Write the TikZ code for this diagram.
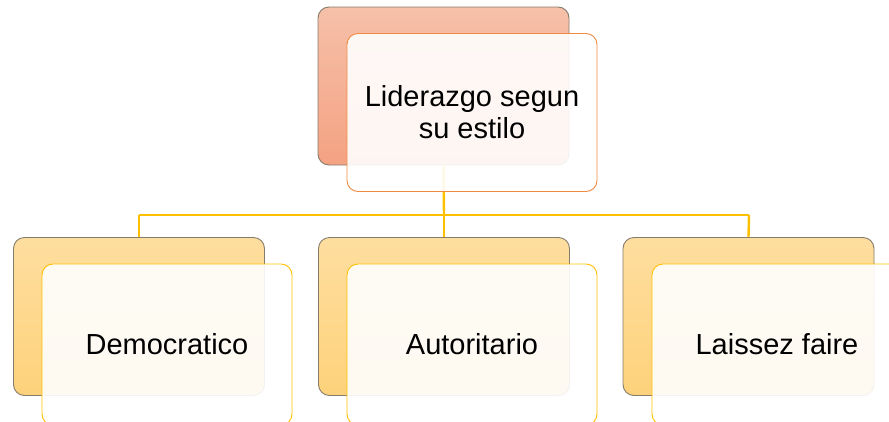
\documentclass[tikz,border=0pt]{standalone}
\usepackage{fontspec}
\setmainfont{Liberation Sans}
\definecolor{salmonTop}{HTML}{F6C0A9}
\definecolor{salmonBot}{HTML}{F4A282}
\definecolor{goldTop}{HTML}{FEDE9F}
\definecolor{goldBot}{HTML}{FED27B}
\definecolor{backEdge}{HTML}{857B6C}
\definecolor{orangeEdge}{HTML}{F08A40}
\definecolor{goldEdge}{HTML}{FFC000}
\begin{document}
\begin{tikzpicture}[x=1pt,y=-1pt,
  backbox/.style={draw=backEdge,line width=0.9pt,rounded corners=11pt,minimum width=251pt,minimum height=158pt,inner sep=0pt},
  topback/.style={backbox,top color=salmonTop,bottom color=salmonBot},
  lowback/.style={backbox,top color=goldTop,bottom color=goldBot},
  frontbox/.style={line width=0.9pt,rounded corners=11pt,minimum width=250pt,inner sep=0pt,fill=white,fill opacity=0.9,text opacity=1,align=center,font=\fontsize{29}{32}\selectfont},
  topfront/.style={frontbox,draw=orangeEdge,minimum height=158pt},
  lowfront/.style={frontbox,draw=goldEdge,minimum height=161pt},
  link/.style={draw=goldEdge,line width=2.4pt}]
\useasboundingbox (0,0) rectangle (889,421);
% back boxes
\node[topback] (tb) at (443.5,86) {};
\node[lowback] (b1) at (139,316.5) {};
\node[lowback] (b2) at (444,316.5) {};
\node[lowback] (b3) at (748.5,316.5) {};
% connectors
\coordinate (hub) at (444,215);
\coordinate (h1) at (139,215);
\coordinate (h3) at (749,215);
\draw[link] (tb.south) -- (hub);
\draw[link] (h1) -- (h3);
\draw[link] (h1) -- (b1.north);
\draw[link] (hub) -- (b2.north);
\draw[link] (h3) -- (b3.north);
% front boxes
\node[topfront] (tf) at (472,112.5) {Liderazgo segun\\su estilo};
\node[lowfront] (f1) at (167,344.5) {\raisebox{2pt}{Democratico}};
\node[lowfront] (f2) at (472,344.5) {\raisebox{2pt}{Autoritario}};
\node[lowfront] (f3) at (777,344.5) {\raisebox{2pt}{Laissez faire}};
\end{tikzpicture}
\end{document}
